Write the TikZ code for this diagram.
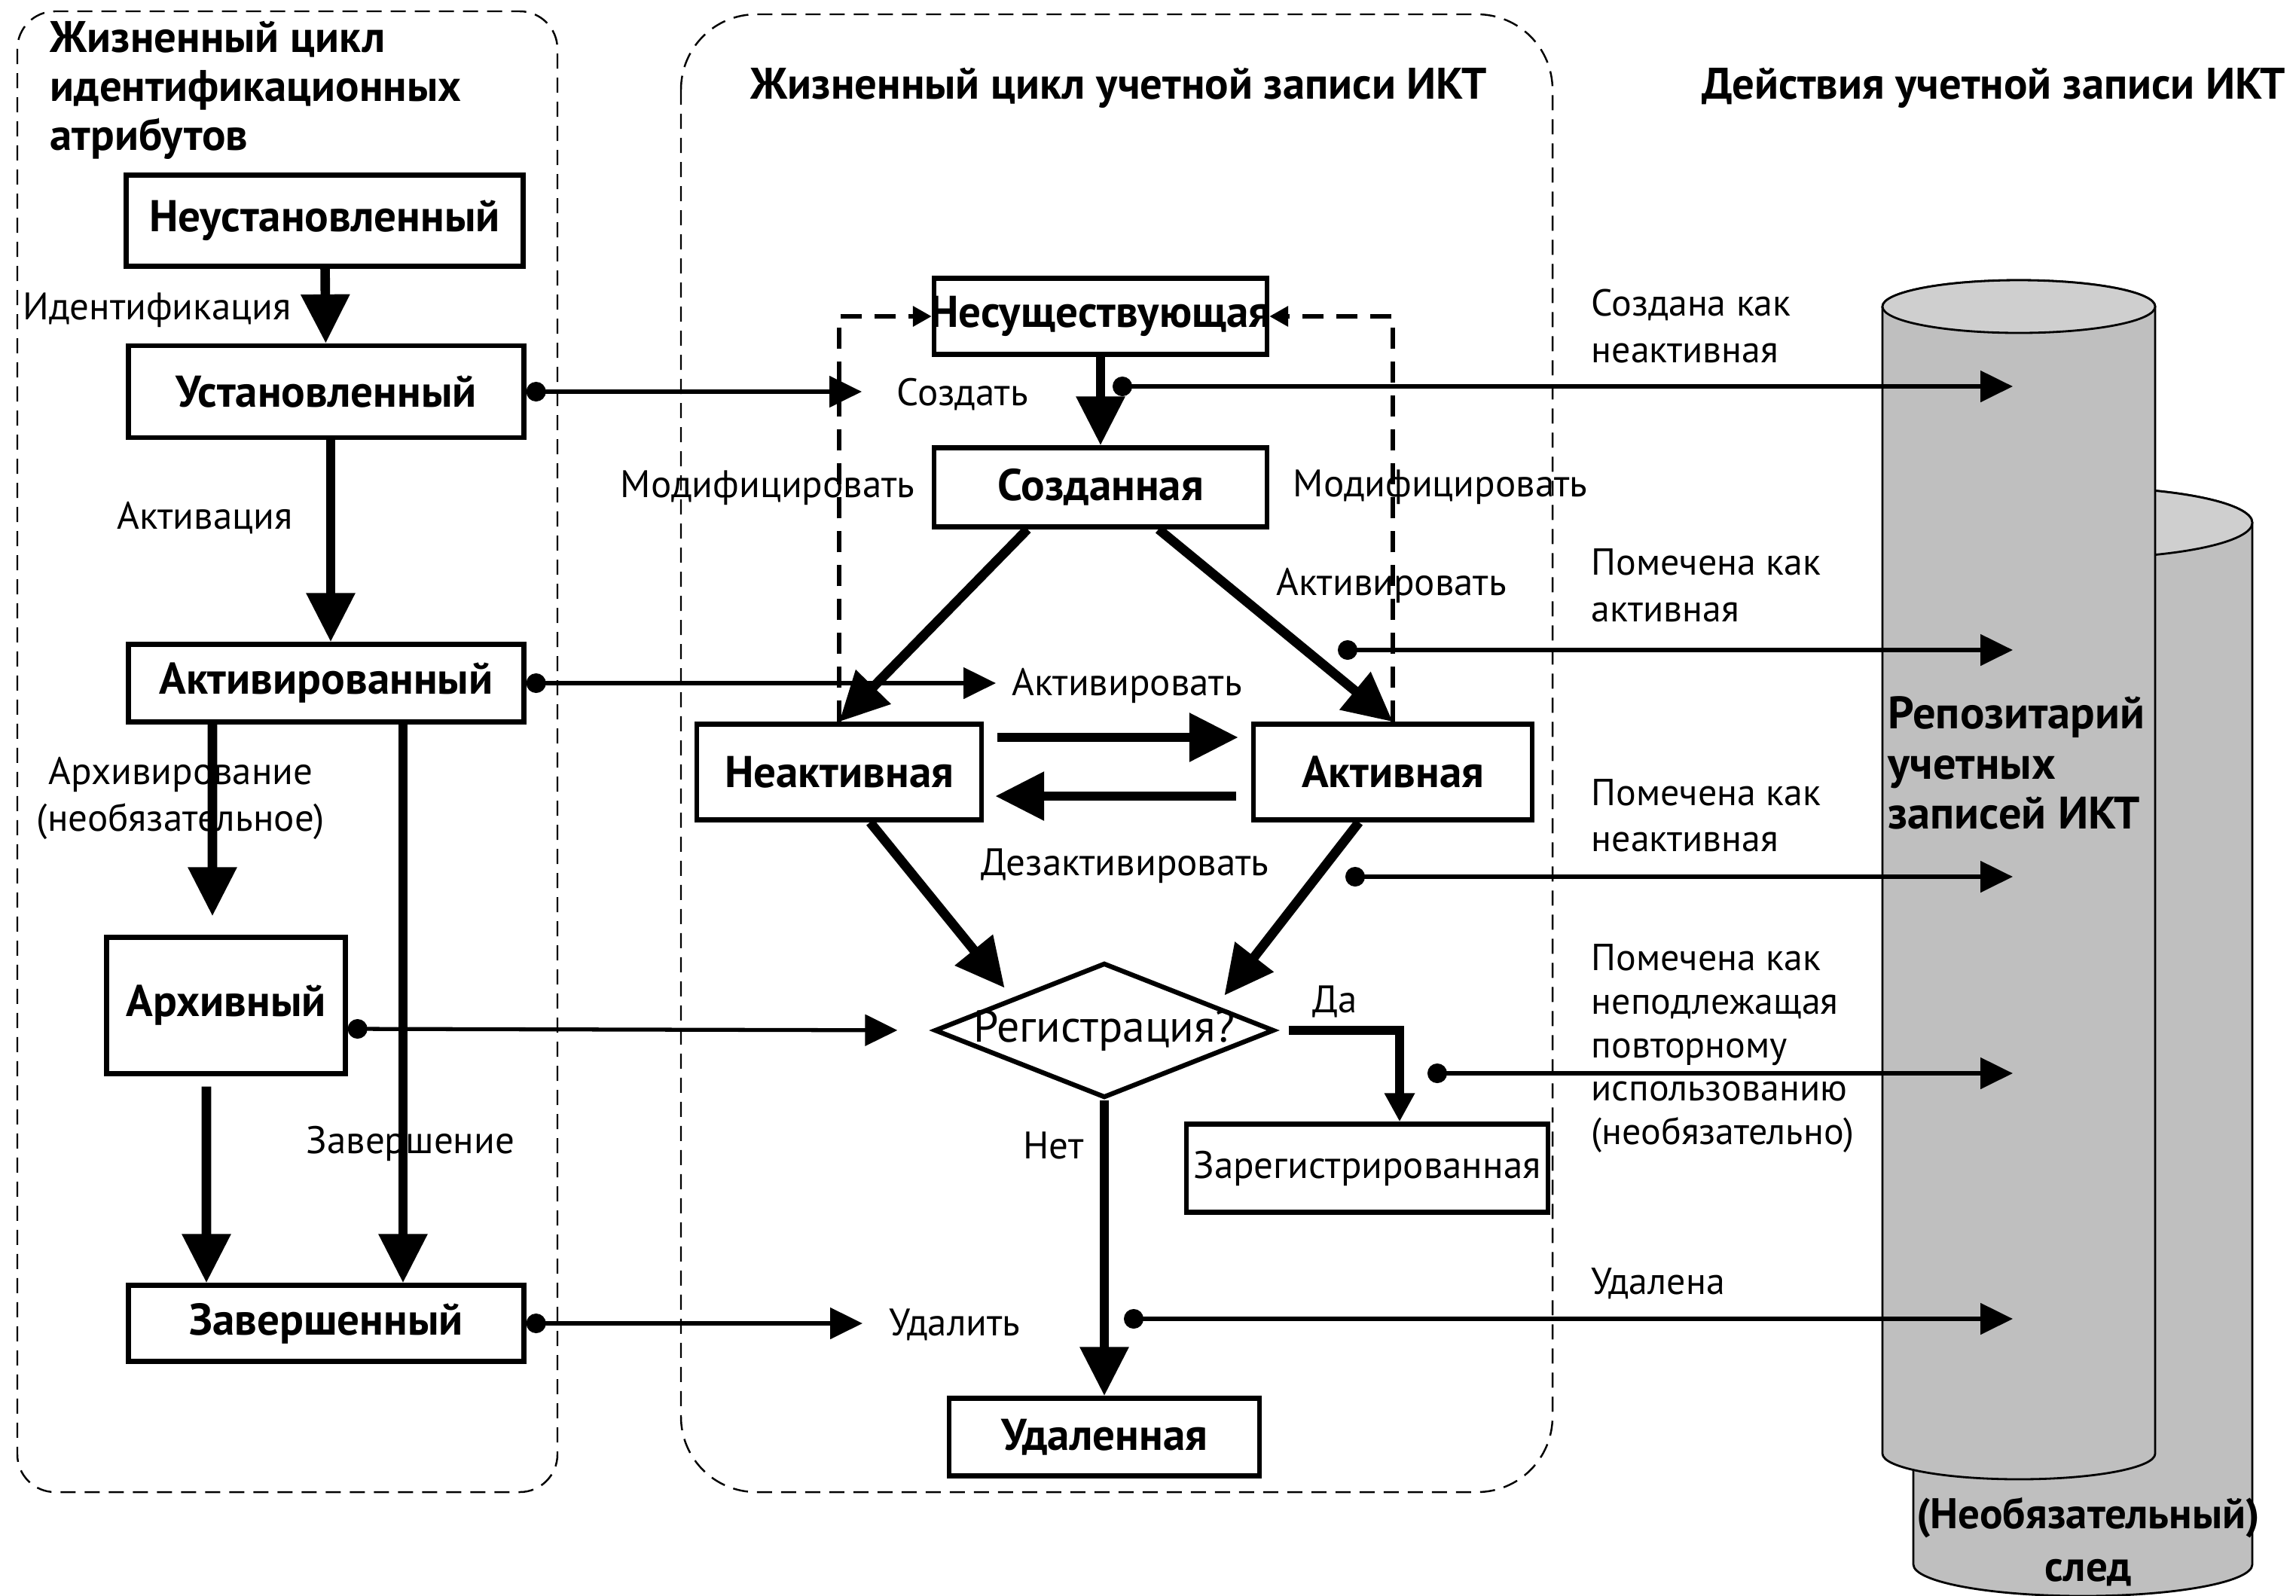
\documentclass[tikz,border=0pt]{standalone}
\usepackage{fontspec}
\setmainfont{PT Sans}
\usetikzlibrary{arrows.meta,positioning,shapes.geometric}
\definecolor{CylBody}{HTML}{BFBFBF}
\definecolor{CylTop}{HTML}{CFCFCF}

\begin{document}
\begin{tikzpicture}[
statebox/.style={draw,line width=1.8pt,inner sep=0pt,font=\bfseries\fontsize{16.8}{19}\selectfont},
lbl/.style={inner sep=0pt,font=\fontsize{14.5}{17.5}\selectfont},
rlbl/.style={inner sep=0pt,align=left,anchor=west,font=\fontsize{14.2}{17.5}\selectfont},
title/.style={inner sep=0pt,font=\bfseries\fontsize{16.7}{18.5}\selectfont},
lane/.style={draw,line width=0.7pt,dash pattern=on 0.2cm off 0.12cm},
flow/.style={line width=3.6pt,-{Triangle[length=0.65cm,width=0.62cm]}},
yesarr/.style={line width=3.6pt,-{Triangle[length=0.38cm,width=0.38cm]}},
act/.style={line width=1.5pt,{Circle[length=0.26cm]}-{Triangle[length=0.43cm,width=0.41cm]}},
mod/.style={line width=1.8pt,dash pattern=on 0.28cm off 0.17cm,-{Triangle[length=0.25cm,width=0.26cm]}},
cyl/.style={draw,line width=0.8pt}]
\useasboundingbox (0,0) rectangle (30.48,-21.18);

% swimlanes
\draw[lane,rounded corners=0.5cm] (0.23,-0.15) rectangle (7.40,-19.81);
\draw[lane,rounded corners=1cm] (9.04,-0.19) rectangle (20.61,-19.81);
\node[title,align=left,anchor=west] (ttlattr) at (0.66,-1.20) {Жизненный цикл\\идентификационных\\атрибутов};
\node[title] (ttlacct) at (14.85,-1.17) {Жизненный цикл учетной записи ИКТ};
\node[title] (ttlact) at (26.47,-1.17) {Действия учетной записи ИКТ};

% repository cylinders
\draw[cyl,fill=CylBody] (25.40,-6.94) -- (25.40,-20.77) arc[start angle=180,end angle=360,x radius=2.25cm,y radius=0.42cm] -- (29.90,-6.94) arc[start angle=0,end angle=180,x radius=2.25cm,y radius=0.47cm] -- cycle;
\draw[cyl,fill=CylTop] (27.65,-6.94) ellipse[x radius=2.25cm,y radius=0.47cm];
\draw[cyl,fill=CylBody] (24.99,-4.07) -- (24.99,-19.30) arc[start angle=180,end angle=360,x radius=1.81cm,y radius=0.34cm] -- (28.61,-4.07) arc[start angle=0,end angle=180,x radius=1.81cm,y radius=0.35cm] -- cycle;
\draw[cyl,fill=CylTop] (26.80,-4.07) ellipse[x radius=1.81cm,y radius=0.35cm];
\node[title,align=left,anchor=west,font=\bfseries\fontsize{17.2}{19}\selectfont] (repo) at (25.06,-10.13) {Репозитарий\\учетных\\записей ИКТ};
\node[title,align=center,font=\bfseries\fontsize{16.2}{20}\selectfont] (trail) at (27.72,-20.47) {(Необязательный)\\след};

% identity attribute states
\node[statebox,minimum width=5.27cm,minimum height=1.21cm] (unest) at (4.31,-2.93) {Неустановленный};
\node[statebox,minimum width=5.25cm,minimum height=1.22cm] (est) at (4.33,-5.20) {Установленный};
\node[statebox,minimum width=5.25cm,minimum height=1.03cm] (actd) at (4.33,-9.07) {Активированный};
\node[statebox,minimum width=3.17cm,minimum height=1.81cm] (arch) at (3.00,-13.35) {Архивный};
\node[statebox,minimum width=5.25cm,minimum height=1.01cm] (done) at (4.33,-17.57) {Завершенный};

\draw[flow] (unest) -- (est);
\draw[flow] ([xshift=0.06cm]est.south) -- ([xshift=0.06cm]actd.north);
\draw[flow,shorten >=0.25cm] ([xshift=-1.51cm]actd.south) -- ([xshift=-0.18cm]arch.north);
\draw[flow,shorten <=0.14cm] ([xshift=-0.26cm]arch.south) -- ([xshift=-1.59cm]done.north);
\draw[flow] ([xshift=1.02cm]actd.south) -- ([xshift=1.02cm]done.north);

\node[lbl,anchor=east] (lblident) at (3.87,-4.12) {Идентификация};
\node[lbl,anchor=east] (lblactv) at (3.89,-6.88) {Активация};
\node[lbl,align=center] (lblarch) at (2.40,-10.60) {Архивирование\\(необязательное)};
\node[lbl] (lblfin) at (5.45,-15.18) {Завершение};

% account states
\node[statebox,minimum width=4.42cm,minimum height=1.01cm] (nonex) at (14.61,-4.20) {\makebox[0pt]{Несуществующая}};
\node[statebox,minimum width=4.42cm,minimum height=1.05cm] (created) at (14.61,-6.47) {Созданная};
\node[statebox,minimum width=3.78cm,minimum height=1.27cm] (inact) at (11.14,-10.25) {Неактивная};
\node[statebox,minimum width=3.70cm,minimum height=1.27cm] (active) at (18.49,-10.25) {Активная};
\node[diamond,draw,line width=1.8pt,inner sep=0pt,minimum width=4.51cm,minimum height=1.79cm,font=\fontsize{17}{19}\selectfont] (reg) at (14.66,-13.68) {\makebox[0pt]{Регистрация?}};
\node[statebox,font=\fontsize{14.5}{17}\selectfont,minimum width=4.80cm,minimum height=1.17cm] (regd) at (18.15,-15.51) {Зарегистрированная};
\node[statebox,minimum width=4.12cm,minimum height=1.03cm] (deleted) at (14.66,-19.08) {Удаленная};

\draw[flow] (nonex) -- (created);
\draw[flow] ([xshift=-0.97cm]created.south) -- (inact.north);
\draw[flow] ([xshift=0.77cm]created.south) -- (active.north);
\draw[flow,shorten <=0.18cm,shorten >=0.17cm] ([yshift=0.46cm]inact.east) -- ([yshift=0.46cm]active.west);
\draw[flow,shorten <=0.2cm,shorten >=0.15cm] ([yshift=-0.32cm]active.west) -- ([yshift=-0.32cm]inact.east);
\draw[flow] ([xshift=0.41cm]inact.south) -- ([shift={(-0.18,0.1)}]reg.north west);
\draw[flow] ([xshift=-0.45cm]active.south) -- ([shift={(0.45,0)}]reg.north east);
\draw[yesarr,shorten <=0.16cm] (reg.east) -| ([xshift=0.43cm]regd.north);
\draw[flow] (reg) -- (deleted);
\draw[mod] (inact.north) |- (nonex.west);
\draw[mod] (active.north) |- (nonex.east);

\node[lbl,anchor=east] (lblmodl) at (12.15,-6.48) {Модифицировать};
\node[lbl,anchor=west] (lblmodr) at (17.16,-6.47) {Модифицировать};
\node[lbl,anchor=west] (lblactr) at (16.94,-7.77) {Активировать};
\node[lbl,anchor=west] (lbldeact) at (13.02,-11.50) {Дезактивировать};
\node[lbl,anchor=west] (lblyes) at (17.42,-13.30) {Да};
\node[lbl,anchor=west] (lblno) at (13.58,-15.21) {Нет};

% attribute events driving the account
\node[lbl,anchor=west] (lblcreate) at (11.90,-5.24) {Создать};
\node[lbl,anchor=west] (lblactivate) at (13.43,-9.10) {Активировать};
\node[lbl,anchor=west] (lbldelete) at (11.80,-17.59) {Удалить};
\draw[act] (est.east) -- ([xshift=-0.46cm]lblcreate.west |- est.east);
\draw[act] (actd.east) -- ([xshift=-0.21cm]lblactivate.west |- actd.east);
\draw[act,shorten >=0.46cm] ([yshift=-0.31cm]arch.east) -- (reg.west);
\draw[act] (done.east) -- ([xshift=-0.35cm]lbldelete.west |- done.east);

% account actions to the repository
\coordinate (s1) at (14.77,-5.13);  \coordinate (t1) at (26.72,-5.13);
\coordinate (s2) at (17.76,-8.63);  \coordinate (t2) at (26.72,-8.63);
\coordinate (s3) at (17.86,-11.64); \coordinate (t3) at (26.72,-11.64);
\coordinate (s4) at (18.95,-14.25); \coordinate (t4) at (26.72,-14.25);
\coordinate (s5) at (14.92,-17.51); \coordinate (t5) at (26.72,-17.51);
\foreach \i in {1,...,5} \draw[act] (s\i) -- (t\i);

\node[rlbl] (lblmk1) at (21.12,-4.33) {Создана как\\неактивная};
\node[rlbl] (lblmk2) at (21.12,-7.77) {Помечена как\\активная};
\node[rlbl] (lblmk3) at (21.12,-10.83) {Помечена как\\неактивная};
\node[rlbl,font=\fontsize{14.2}{16.5}\selectfont] (lblmk4) at (21.12,-13.92) {Помечена как\\неподлежащая\\повторному\\использованию\\(необязательно)};
\node[rlbl] (lblmk5) at (21.12,-17.04) {Удалена};
\end{tikzpicture}
\end{document}
